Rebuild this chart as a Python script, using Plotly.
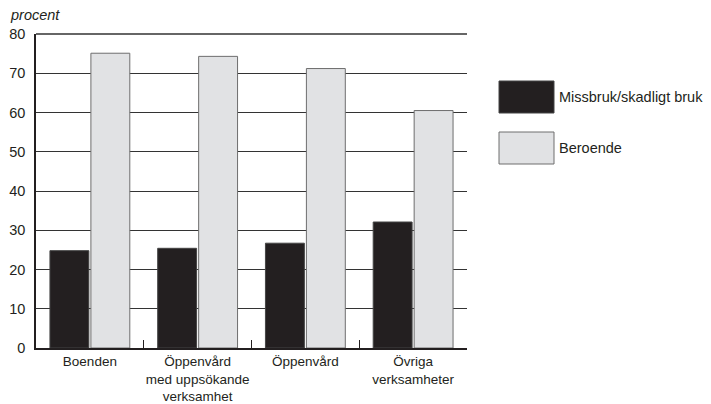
import plotly.graph_objects as go

categories = ["Boenden", "Öppenvård<br>med uppsökande<br>verksamhet", "Öppenvård", "Övriga<br>verksamheter"]
series_names = ["Missbruk/skadligt bruk", "Beroende"]
missbruk = [24.8, 25.4, 26.7, 32.1]
beroende = [75.1, 74.3, 71.2, 60.5]
y_ticks = [0, 10, 20, 30, 40, 50, 60, 70, 80]
y_title = "procent"

colors = ["#231f20", "#e1e2e4"]
outlines = ["#444444", "#6e6e6e"]
FONT = "Liberation Sans, Arial, sans-serif"
FS = 14.5
FS_X = 13.5

# page body has an 8px margin (left/top), so the figure is sized/offset to compensate
OFF = 8
fig = go.Figure()
for name, vals, c, oc in zip(series_names, [missbruk, beroende], colors, outlines):
    fig.add_trace(go.Bar(x=categories, y=vals, name=name, marker=dict(color=c, line=dict(color=oc, width=1)),
                         showlegend=False))

plot_w, plot_h = 431, 314

fig.update_layout(
    width=711 - OFF, height=404 - OFF,
    margin=dict(l=36 - OFF, r=244, t=34 - OFF, b=56, autoexpand=False),
    paper_bgcolor="white", plot_bgcolor="white",
    barmode="group", bargap=0.24, bargroupgap=0.05,
    font=dict(family=FONT, size=FS, color="#231f20"),
    xaxis=dict(showline=True, linecolor="#231f20", linewidth=2, ticks="inside", tickson="boundaries",
               ticklen=8, tickcolor="#231f20", tickwidth=1, showgrid=False, tickangle=0,
               automargin=False, tickfont=dict(size=FS_X)),
    yaxis=dict(range=[0, 80], tickvals=y_ticks, showline=True, linecolor="#231f20", linewidth=1.5,
               showgrid=True, gridcolor="#333333", gridwidth=1.3, zeroline=False, ticks="",
               automargin=False, ticklabelstandoff=6, tickfont=dict(size=FS)),
    annotations=[dict(text="<i>" + y_title + "</i>", xref="paper", yref="paper", x=-28/plot_w, y=1 + 9/plot_h,
                      xanchor="left", yanchor="bottom", showarrow=False, font=dict(size=FS))],
)

# top gridline (at 80) along the plot edge
fig.add_shape(type="line", xref="paper", yref="paper", x0=0, x1=1, y0=1, y1=1,
              line=dict(color="#333333", width=1.3))

def px_x(px):
    return (px - 36) / plot_w
def px_y(py):
    return (348 - py) / plot_h

# legend drawn manually with large swatches
leg_y = [(81, 113), (132, 164)]
for (y0, y1), name, c, oc in zip(leg_y, series_names, colors, outlines):
    fig.add_shape(type="rect", xref="paper", yref="paper", x0=px_x(499), x1=px_x(554),
                  y0=px_y(y1), y1=px_y(y0), fillcolor=c, line=dict(color=oc, width=1))
    fig.add_annotation(text=name, xref="paper", yref="paper", x=px_x(557), y=px_y((y0 + y1) / 2),
                       xanchor="left", yanchor="middle", showarrow=False, font=dict(size=FS))

fig.write_html("out.html")
